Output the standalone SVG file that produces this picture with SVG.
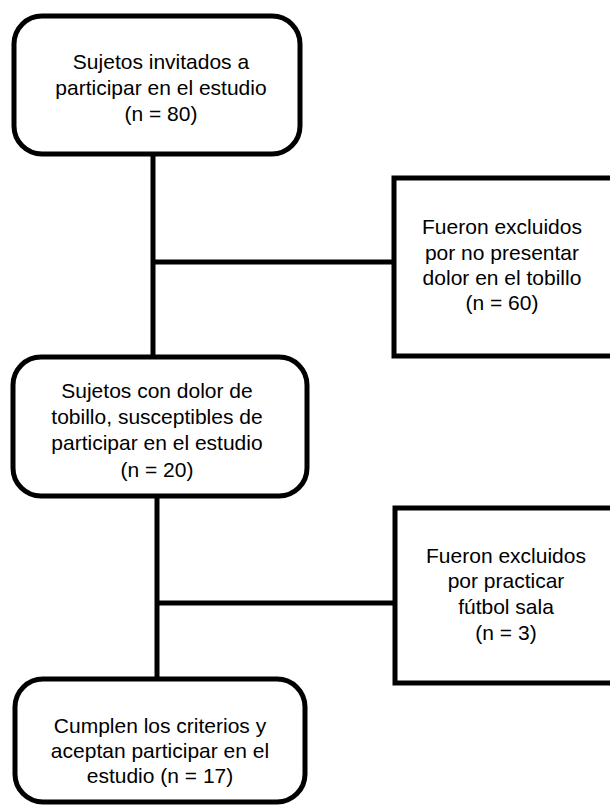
<svg xmlns="http://www.w3.org/2000/svg" width="610" height="805" viewBox="0 0 610 805">
<style>
.box{fill:#fff;stroke:#000;stroke-width:5}
.ln{stroke:#000;stroke-width:5;fill:none}
text{font-family:"Liberation Sans",Arial,sans-serif;font-size:21px;fill:#000;text-anchor:middle}
</style>
<rect width="610" height="805" fill="#fff"/>
<g id="connectors">
<line class="ln" x1="153" y1="154" x2="153" y2="357"/>
<line class="ln" x1="153" y1="262" x2="394" y2="262"/>
<line class="ln" x1="157" y1="496" x2="157" y2="679"/>
<line class="ln" x1="157" y1="603" x2="395" y2="603"/>
</g>
<g id="n1">
<rect class="box" x="14" y="16" width="286" height="138" rx="28"/>
<text x="161" y="69">Sujetos invitados a</text>
<text x="161" y="95">participar en el estudio</text>
<text x="161" y="121">(n = 80)</text>
</g>
<g id="n2">
<rect class="box" x="394" y="178" width="222" height="178"/>
<text x="502" y="234">Fueron excluidos</text>
<text x="502" y="260">por no presentar</text>
<text x="502" y="285">dolor en el tobillo</text>
<text x="502" y="310">(n = 60)</text>
</g>
<g id="n3">
<rect class="box" x="13" y="357" width="294" height="139" rx="28"/>
<text x="157" y="398">Sujetos con dolor de</text>
<text x="157" y="424">tobillo, susceptibles de</text>
<text x="157" y="450">participar en el estudio</text>
<text x="157" y="477">(n = 20)</text>
</g>
<g id="n4">
<rect class="box" x="395" y="508" width="222" height="175"/>
<text x="506" y="563">Fueron excluidos</text>
<text x="506" y="588">por practicar</text>
<text x="506" y="614">fútbol sala</text>
<text x="506" y="640">(n = 3)</text>
</g>
<g id="n5">
<rect class="box" x="15" y="679" width="290" height="123" rx="28"/>
<text x="160" y="733">Cumplen los criterios y</text>
<text x="160" y="758">aceptan participar en el</text>
<text x="160" y="783">estudio (n = 17)</text>
</g>
</svg>
